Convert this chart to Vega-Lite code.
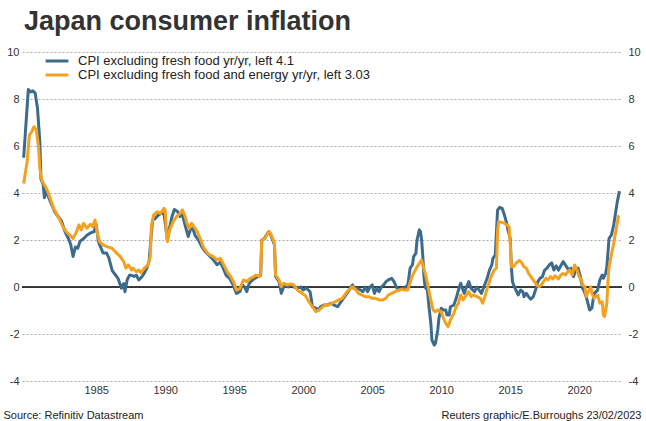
{
  "$schema": "https://vega.github.io/schema/vega-lite/v6.json",
  "width": 600,
  "height": 329,
  "autosize": {"type": "none"},
  "padding": {"left": 22, "top": 52, "right": 24, "bottom": 40},
  "background": "white",
  "title": {"text": "Japan consumer inflation", "anchor": "start", "frame": "group", "fontSize": 27, "fontWeight": "bold", "font": "Liberation Sans", "color": "#333333", "baseline": "alphabetic", "offset": 22, "dx": 2, "dy": 33},
  "config": {"view": {"stroke": null}, "font": "Liberation Sans"},
  "datasets": {
    "zero": [{"zero": 0}],
    "cpi": [
      {"date":"1979-10","series":"core","value":5.5},{"date":"1980-02","series":"core","value":8.4},{"date":"1980-04","series":"core","value":8.3},{"date":"1980-06","series":"core","value":8.35},{"date":"1980-08","series":"core","value":8.25},{"date":"1980-10","series":"core","value":7.6},{"date":"1980-12","series":"core","value":6.2},{"date":"1981-01","series":"core","value":4.6},{"date":"1981-03","series":"core","value":4.35},{"date":"1981-04","series":"core","value":3.8},{"date":"1981-05","series":"core","value":4.1},{"date":"1981-07","series":"core","value":3.9},{"date":"1981-10","series":"core","value":3.55},{"date":"1982-01","series":"core","value":3.2},{"date":"1982-04","series":"core","value":3.0},{"date":"1982-07","series":"core","value":2.8},{"date":"1982-10","series":"core","value":2.35},{"date":"1983-01","series":"core","value":2.05},{"date":"1983-03","series":"core","value":1.8},{"date":"1983-05","series":"core","value":1.3},{"date":"1983-07","series":"core","value":1.7},{"date":"1983-09","series":"core","value":1.65},{"date":"1983-11","series":"core","value":1.95},{"date":"1984-02","series":"core","value":2.05},{"date":"1984-05","series":"core","value":2.2},{"date":"1984-08","series":"core","value":2.3},{"date":"1984-11","series":"core","value":2.35},{"date":"1985-01","series":"core","value":2.65},{"date":"1985-03","series":"core","value":1.95},{"date":"1985-04","series":"core","value":1.8},{"date":"1985-07","series":"core","value":1.45},{"date":"1985-10","series":"core","value":1.45},{"date":"1985-12","series":"core","value":1.25},{"date":"1986-03","series":"core","value":0.7},{"date":"1986-06","series":"core","value":0.5},{"date":"1986-08","series":"core","value":0.37},{"date":"1986-11","series":"core","value":-0.05},{"date":"1987-01","series":"core","value":0.15},{"date":"1987-02","series":"core","value":-0.2},{"date":"1987-04","series":"core","value":0.3},{"date":"1987-06","series":"core","value":0.5},{"date":"1987-08","series":"core","value":0.5},{"date":"1987-10","series":"core","value":0.45},{"date":"1987-12","series":"core","value":0.5},{"date":"1988-02","series":"core","value":0.3},{"date":"1988-05","series":"core","value":0.45},{"date":"1988-07","series":"core","value":0.6},{"date":"1988-09","series":"core","value":0.8},{"date":"1988-11","series":"core","value":1.1},{"date":"1988-12","series":"core","value":1.7},{"date":"1989-02","series":"core","value":2.85},{"date":"1989-04","series":"core","value":2.9},{"date":"1989-07","series":"core","value":3.05},{"date":"1989-10","series":"core","value":3.15},{"date":"1989-12","series":"core","value":3.1},{"date":"1990-03","series":"core","value":2.0},{"date":"1990-05","series":"core","value":2.55},{"date":"1990-07","series":"core","value":3.0},{"date":"1990-09","series":"core","value":3.3},{"date":"1990-12","series":"core","value":3.2},{"date":"1991-02","series":"core","value":3.0},{"date":"1991-04","series":"core","value":3.1},{"date":"1991-06","series":"core","value":2.7},{"date":"1991-09","series":"core","value":2.15},{"date":"1991-11","series":"core","value":2.45},{"date":"1992-01","series":"core","value":2.5},{"date":"1992-03","series":"core","value":2.2},{"date":"1992-06","series":"core","value":2.0},{"date":"1992-09","series":"core","value":1.7},{"date":"1992-12","series":"core","value":1.5},{"date":"1993-03","series":"core","value":1.35},{"date":"1993-07","series":"core","value":1.15},{"date":"1993-10","series":"core","value":0.95},{"date":"1994-01","series":"core","value":1.05},{"date":"1994-03","series":"core","value":0.85},{"date":"1994-06","series":"core","value":0.5},{"date":"1994-09","series":"core","value":0.37},{"date":"1994-12","series":"core","value":0.1},{"date":"1995-03","series":"core","value":-0.27},{"date":"1995-06","series":"core","value":-0.2},{"date":"1995-08","series":"core","value":0.1},{"date":"1995-10","series":"core","value":0.0},{"date":"1995-12","series":"core","value":-0.2},{"date":"1996-02","series":"core","value":0.15},{"date":"1996-05","series":"core","value":0.3},{"date":"1996-07","series":"core","value":0.37},{"date":"1996-10","series":"core","value":0.45},{"date":"1996-12","series":"core","value":0.5},{"date":"1997-01","series":"core","value":2.0},{"date":"1997-03","series":"core","value":2.05},{"date":"1997-05","series":"core","value":2.2},{"date":"1997-07","series":"core","value":2.35},{"date":"1997-09","series":"core","value":2.2},{"date":"1997-10","series":"core","value":2.05},{"date":"1997-12","series":"core","value":1.8},{"date":"1998-01","series":"core","value":0.45},{"date":"1998-04","series":"core","value":0.23},{"date":"1998-06","series":"core","value":-0.27},{"date":"1998-08","series":"core","value":0.0},{"date":"1998-10","series":"core","value":0.1},{"date":"1998-12","series":"core","value":0.0},{"date":"1999-02","series":"core","value":0.1},{"date":"1999-05","series":"core","value":0.0},{"date":"1999-08","series":"core","value":-0.05},{"date":"1999-11","series":"core","value":0.0},{"date":"2000-01","series":"core","value":-0.13},{"date":"2000-04","series":"core","value":-0.05},{"date":"2000-07","series":"core","value":-0.2},{"date":"2000-08","series":"core","value":-0.5},{"date":"2000-09","series":"core","value":-0.84},{"date":"2000-12","series":"core","value":-0.9},{"date":"2001-02","series":"core","value":-0.98},{"date":"2001-04","series":"core","value":-0.84},{"date":"2001-07","series":"core","value":-0.77},{"date":"2001-10","series":"core","value":-0.77},{"date":"2002-01","series":"core","value":-0.69},{"date":"2002-04","series":"core","value":-0.77},{"date":"2002-07","series":"core","value":-0.84},{"date":"2002-09","series":"core","value":-0.69},{"date":"2002-12","series":"core","value":-0.48},{"date":"2003-03","series":"core","value":-0.27},{"date":"2003-06","series":"core","value":-0.06},{"date":"2003-08","series":"core","value":0.09},{"date":"2003-09","series":"core","value":-0.06},{"date":"2003-12","series":"core","value":-0.06},{"date":"2004-03","series":"core","value":-0.13},{"date":"2004-05","series":"core","value":-0.2},{"date":"2004-07","series":"core","value":0.0},{"date":"2004-09","series":"core","value":-0.2},{"date":"2004-11","series":"core","value":0.0},{"date":"2005-01","series":"core","value":0.09},{"date":"2005-03","series":"core","value":-0.27},{"date":"2005-05","series":"core","value":-0.06},{"date":"2005-07","series":"core","value":-0.2},{"date":"2005-09","series":"core","value":0.0},{"date":"2005-11","series":"core","value":0.09},{"date":"2006-01","series":"core","value":0.23},{"date":"2006-03","series":"core","value":0.3},{"date":"2006-06","series":"core","value":0.37},{"date":"2006-08","series":"core","value":0.23},{"date":"2006-10","series":"core","value":0.0},{"date":"2006-12","series":"core","value":-0.13},{"date":"2007-03","series":"core","value":-0.06},{"date":"2007-05","series":"core","value":-0.06},{"date":"2007-08","series":"core","value":0.09},{"date":"2007-10","series":"core","value":0.8},{"date":"2007-12","series":"core","value":0.94},{"date":"2008-01","series":"core","value":1.29},{"date":"2008-03","series":"core","value":1.43},{"date":"2008-04","series":"core","value":2.0},{"date":"2008-06","series":"core","value":2.43},{"date":"2008-07","series":"core","value":2.35},{"date":"2008-08","series":"core","value":2.0},{"date":"2008-09","series":"core","value":1.29},{"date":"2008-10","series":"core","value":0.44},{"date":"2008-11","series":"core","value":0.0},{"date":"2009-01","series":"core","value":-0.13},{"date":"2009-02","series":"core","value":-0.69},{"date":"2009-04","series":"core","value":-1.55},{"date":"2009-05","series":"core","value":-2.26},{"date":"2009-07","series":"core","value":-2.47},{"date":"2009-08","series":"core","value":-2.4},{"date":"2009-10","series":"core","value":-1.83},{"date":"2009-11","series":"core","value":-1.33},{"date":"2010-01","series":"core","value":-0.9},{"date":"2010-03","series":"core","value":-0.98},{"date":"2010-05","series":"core","value":-0.98},{"date":"2010-06","series":"core","value":-1.19},{"date":"2010-08","series":"core","value":-1.19},{"date":"2010-09","series":"core","value":-0.84},{"date":"2010-12","series":"core","value":-0.77},{"date":"2011-02","series":"core","value":-0.48},{"date":"2011-04","series":"core","value":-0.13},{"date":"2011-06","series":"core","value":0.16},{"date":"2011-07","series":"core","value":0.0},{"date":"2011-09","series":"core","value":-0.27},{"date":"2011-11","series":"core","value":0.0},{"date":"2012-01","series":"core","value":0.23},{"date":"2012-03","series":"core","value":-0.06},{"date":"2012-06","series":"core","value":-0.2},{"date":"2012-08","series":"core","value":0.0},{"date":"2012-10","series":"core","value":-0.13},{"date":"2012-12","series":"core","value":-0.27},{"date":"2013-02","series":"core","value":0.0},{"date":"2013-05","series":"core","value":0.37},{"date":"2013-07","series":"core","value":0.72},{"date":"2013-09","series":"core","value":0.94},{"date":"2013-10","series":"core","value":1.22},{"date":"2013-12","series":"core","value":1.36},{"date":"2014-02","series":"core","value":3.28},{"date":"2014-04","series":"core","value":3.39},{"date":"2014-06","series":"core","value":3.35},{"date":"2014-08","series":"core","value":3.06},{"date":"2014-10","series":"core","value":2.71},{"date":"2014-11","series":"core","value":2.43},{"date":"2015-01","series":"core","value":2.07},{"date":"2015-02","series":"core","value":0.86},{"date":"2015-03","series":"core","value":0.23},{"date":"2015-04","series":"core","value":0.09},{"date":"2015-06","series":"core","value":-0.13},{"date":"2015-08","series":"core","value":-0.34},{"date":"2015-10","series":"core","value":-0.13},{"date":"2015-12","series":"core","value":-0.2},{"date":"2016-01","series":"core","value":-0.41},{"date":"2016-03","series":"core","value":-0.27},{"date":"2016-05","series":"core","value":-0.41},{"date":"2016-07","series":"core","value":-0.52},{"date":"2016-09","series":"core","value":-0.41},{"date":"2016-11","series":"core","value":-0.13},{"date":"2017-01","series":"core","value":0.23},{"date":"2017-03","series":"core","value":0.37},{"date":"2017-05","series":"core","value":0.44},{"date":"2017-07","series":"core","value":0.72},{"date":"2017-09","series":"core","value":0.8},{"date":"2017-11","series":"core","value":0.94},{"date":"2018-01","series":"core","value":1.03},{"date":"2018-03","series":"core","value":0.72},{"date":"2018-05","series":"core","value":0.9},{"date":"2018-07","series":"core","value":0.72},{"date":"2018-09","series":"core","value":0.9},{"date":"2018-11","series":"core","value":1.08},{"date":"2019-02","series":"core","value":0.86},{"date":"2019-04","series":"core","value":0.72},{"date":"2019-06","series":"core","value":0.8},{"date":"2019-08","series":"core","value":0.44},{"date":"2019-10","series":"core","value":0.72},{"date":"2019-12","series":"core","value":0.8},{"date":"2020-02","series":"core","value":0.44},{"date":"2020-04","series":"core","value":-0.06},{"date":"2020-05","series":"core","value":-0.13},{"date":"2020-07","series":"core","value":-0.41},{"date":"2020-09","series":"core","value":-0.77},{"date":"2020-10","series":"core","value":-0.98},{"date":"2020-12","series":"core","value":-0.9},{"date":"2021-01","series":"core","value":-0.55},{"date":"2021-02","series":"core","value":-0.27},{"date":"2021-05","series":"core","value":-0.13},{"date":"2021-06","series":"core","value":0.09},{"date":"2021-07","series":"core","value":0.3},{"date":"2021-09","series":"core","value":0.51},{"date":"2021-10","series":"core","value":0.37},{"date":"2021-12","series":"core","value":0.58},{"date":"2022-01","series":"core","value":0.86},{"date":"2022-03","series":"core","value":2.07},{"date":"2022-05","series":"core","value":2.21},{"date":"2022-07","series":"core","value":2.64},{"date":"2022-09","series":"core","value":3.28},{"date":"2022-10","series":"core","value":3.6},{"date":"2022-12","series":"core","value":4.08},
      {"date":"1979-10","series":"corecore","value":4.4},{"date":"1980-01","series":"corecore","value":5.33},{"date":"1980-03","series":"corecore","value":6.47},{"date":"1980-05","series":"corecore","value":6.6},{"date":"1980-07","series":"corecore","value":6.82},{"date":"1980-09","series":"corecore","value":6.68},{"date":"1980-11","series":"corecore","value":5.9},{"date":"1980-12","series":"corecore","value":5.05},{"date":"1981-02","series":"corecore","value":4.48},{"date":"1981-05","series":"corecore","value":4.27},{"date":"1981-07","series":"corecore","value":4.06},{"date":"1981-12","series":"corecore","value":3.35},{"date":"1982-04","series":"corecore","value":3.0},{"date":"1982-08","series":"corecore","value":2.57},{"date":"1982-11","series":"corecore","value":2.35},{"date":"1983-02","series":"corecore","value":2.21},{"date":"1983-05","series":"corecore","value":2.07},{"date":"1983-08","series":"corecore","value":2.35},{"date":"1983-10","series":"corecore","value":2.64},{"date":"1983-12","series":"corecore","value":2.43},{"date":"1984-02","series":"corecore","value":2.71},{"date":"1984-05","series":"corecore","value":2.5},{"date":"1984-08","series":"corecore","value":2.67},{"date":"1984-10","series":"corecore","value":2.57},{"date":"1984-12","series":"corecore","value":2.85},{"date":"1985-02","series":"corecore","value":2.28},{"date":"1985-04","series":"corecore","value":1.93},{"date":"1985-07","series":"corecore","value":1.79},{"date":"1985-11","series":"corecore","value":1.71},{"date":"1986-03","series":"corecore","value":1.64},{"date":"1986-07","series":"corecore","value":1.43},{"date":"1986-10","series":"corecore","value":1.29},{"date":"1987-01","series":"corecore","value":1.08},{"date":"1987-03","series":"corecore","value":0.8},{"date":"1987-05","series":"corecore","value":0.94},{"date":"1987-08","series":"corecore","value":0.72},{"date":"1987-09","series":"corecore","value":0.8},{"date":"1987-12","series":"corecore","value":0.65},{"date":"1988-02","series":"corecore","value":0.72},{"date":"1988-04","series":"corecore","value":0.61},{"date":"1988-07","series":"corecore","value":0.8},{"date":"1988-10","series":"corecore","value":0.94},{"date":"1988-12","series":"corecore","value":1.29},{"date":"1989-01","series":"corecore","value":2.57},{"date":"1989-03","series":"corecore","value":3.06},{"date":"1989-06","series":"corecore","value":3.2},{"date":"1989-09","series":"corecore","value":3.13},{"date":"1989-12","series":"corecore","value":3.35},{"date":"1990-01","series":"corecore","value":3.28},{"date":"1990-02","series":"corecore","value":2.28},{"date":"1990-03","series":"corecore","value":1.93},{"date":"1990-05","series":"corecore","value":2.43},{"date":"1990-08","series":"corecore","value":2.78},{"date":"1990-11","series":"corecore","value":3.0},{"date":"1991-02","series":"corecore","value":3.13},{"date":"1991-04","series":"corecore","value":3.28},{"date":"1991-06","series":"corecore","value":3.06},{"date":"1991-08","series":"corecore","value":2.71},{"date":"1991-10","series":"corecore","value":2.5},{"date":"1991-12","series":"corecore","value":2.71},{"date":"1992-03","series":"corecore","value":2.5},{"date":"1992-05","series":"corecore","value":2.35},{"date":"1992-08","series":"corecore","value":2.0},{"date":"1992-10","series":"corecore","value":1.71},{"date":"1993-02","series":"corecore","value":1.43},{"date":"1993-04","series":"corecore","value":1.36},{"date":"1993-07","series":"corecore","value":1.29},{"date":"1993-10","series":"corecore","value":1.15},{"date":"1994-01","series":"corecore","value":1.22},{"date":"1994-04","series":"corecore","value":0.94},{"date":"1994-07","series":"corecore","value":0.65},{"date":"1994-10","series":"corecore","value":0.44},{"date":"1995-01","series":"corecore","value":0.16},{"date":"1995-03","series":"corecore","value":-0.13},{"date":"1995-06","series":"corecore","value":-0.06},{"date":"1995-09","series":"corecore","value":0.3},{"date":"1995-12","series":"corecore","value":0.23},{"date":"1996-03","series":"corecore","value":0.37},{"date":"1996-06","series":"corecore","value":0.44},{"date":"1996-08","series":"corecore","value":0.51},{"date":"1996-11","series":"corecore","value":0.44},{"date":"1996-12","series":"corecore","value":0.58},{"date":"1997-01","series":"corecore","value":2.0},{"date":"1997-04","series":"corecore","value":2.07},{"date":"1997-06","series":"corecore","value":2.28},{"date":"1997-08","series":"corecore","value":2.35},{"date":"1997-10","series":"corecore","value":2.14},{"date":"1997-12","series":"corecore","value":1.86},{"date":"1998-01","series":"corecore","value":0.51},{"date":"1998-04","series":"corecore","value":0.3},{"date":"1998-06","series":"corecore","value":0.01},{"date":"1998-08","series":"corecore","value":0.16},{"date":"1998-11","series":"corecore","value":0.09},{"date":"1999-02","series":"corecore","value":0.13},{"date":"1999-05","series":"corecore","value":0.09},{"date":"1999-08","series":"corecore","value":-0.13},{"date":"1999-12","series":"corecore","value":-0.27},{"date":"2000-03","series":"corecore","value":-0.37},{"date":"2000-06","series":"corecore","value":-0.63},{"date":"2000-09","series":"corecore","value":-0.84},{"date":"2000-12","series":"corecore","value":-1.05},{"date":"2001-03","series":"corecore","value":-0.98},{"date":"2001-06","series":"corecore","value":-0.84},{"date":"2001-08","series":"corecore","value":-0.77},{"date":"2001-11","series":"corecore","value":-0.77},{"date":"2002-02","series":"corecore","value":-0.69},{"date":"2002-05","series":"corecore","value":-0.63},{"date":"2002-08","series":"corecore","value":-0.55},{"date":"2002-11","series":"corecore","value":-0.48},{"date":"2003-02","series":"corecore","value":-0.27},{"date":"2003-05","series":"corecore","value":-0.1},{"date":"2003-08","series":"corecore","value":0.01},{"date":"2003-11","series":"corecore","value":-0.13},{"date":"2004-01","series":"corecore","value":-0.27},{"date":"2004-04","series":"corecore","value":-0.34},{"date":"2004-07","series":"corecore","value":-0.41},{"date":"2004-10","series":"corecore","value":-0.41},{"date":"2005-01","series":"corecore","value":-0.48},{"date":"2005-04","series":"corecore","value":-0.48},{"date":"2005-07","series":"corecore","value":-0.55},{"date":"2005-10","series":"corecore","value":-0.55},{"date":"2006-01","series":"corecore","value":-0.48},{"date":"2006-03","series":"corecore","value":-0.34},{"date":"2006-06","series":"corecore","value":-0.27},{"date":"2006-09","series":"corecore","value":-0.2},{"date":"2006-12","series":"corecore","value":-0.13},{"date":"2007-03","series":"corecore","value":-0.1},{"date":"2007-05","series":"corecore","value":-0.13},{"date":"2007-08","series":"corecore","value":-0.13},{"date":"2007-11","series":"corecore","value":0.37},{"date":"2008-01","series":"corecore","value":0.58},{"date":"2008-04","series":"corecore","value":0.86},{"date":"2008-07","series":"corecore","value":1.08},{"date":"2008-08","series":"corecore","value":1.15},{"date":"2008-09","series":"corecore","value":0.94},{"date":"2008-11","series":"corecore","value":0.58},{"date":"2009-01","series":"corecore","value":0.16},{"date":"2009-04","series":"corecore","value":-0.55},{"date":"2009-06","series":"corecore","value":-0.98},{"date":"2009-08","series":"corecore","value":-1.05},{"date":"2009-10","series":"corecore","value":-0.98},{"date":"2010-01","series":"corecore","value":-1.05},{"date":"2010-03","series":"corecore","value":-1.33},{"date":"2010-05","series":"corecore","value":-1.55},{"date":"2010-07","series":"corecore","value":-1.69},{"date":"2010-09","series":"corecore","value":-1.4},{"date":"2010-12","series":"corecore","value":-1.12},{"date":"2011-02","series":"corecore","value":-0.84},{"date":"2011-04","series":"corecore","value":-0.69},{"date":"2011-06","series":"corecore","value":-0.34},{"date":"2011-08","series":"corecore","value":-0.55},{"date":"2011-10","series":"corecore","value":-0.41},{"date":"2012-01","series":"corecore","value":-0.2},{"date":"2012-03","series":"corecore","value":-0.41},{"date":"2012-05","series":"corecore","value":-0.34},{"date":"2012-08","series":"corecore","value":-0.41},{"date":"2012-11","series":"corecore","value":-0.48},{"date":"2013-01","series":"corecore","value":-0.69},{"date":"2013-03","series":"corecore","value":-0.41},{"date":"2013-05","series":"corecore","value":-0.06},{"date":"2013-07","series":"corecore","value":0.23},{"date":"2013-09","series":"corecore","value":0.51},{"date":"2013-11","series":"corecore","value":0.72},{"date":"2014-01","series":"corecore","value":0.8},{"date":"2014-02","series":"corecore","value":2.4},{"date":"2014-03","series":"corecore","value":2.78},{"date":"2014-06","series":"corecore","value":2.75},{"date":"2014-08","series":"corecore","value":2.71},{"date":"2014-10","series":"corecore","value":2.64},{"date":"2014-12","series":"corecore","value":2.57},{"date":"2015-01","series":"corecore","value":1.86},{"date":"2015-02","series":"corecore","value":0.86},{"date":"2015-04","series":"corecore","value":0.86},{"date":"2015-06","series":"corecore","value":1.01},{"date":"2015-09","series":"corecore","value":1.13},{"date":"2015-11","series":"corecore","value":1.03},{"date":"2016-01","series":"corecore","value":0.86},{"date":"2016-03","series":"corecore","value":0.8},{"date":"2016-05","series":"corecore","value":0.58},{"date":"2016-08","series":"corecore","value":0.37},{"date":"2016-10","series":"corecore","value":0.23},{"date":"2016-12","series":"corecore","value":0.09},{"date":"2017-02","series":"corecore","value":0.01},{"date":"2017-04","series":"corecore","value":0.09},{"date":"2017-06","series":"corecore","value":0.23},{"date":"2017-08","series":"corecore","value":0.37},{"date":"2017-10","series":"corecore","value":0.3},{"date":"2017-12","series":"corecore","value":0.44},{"date":"2018-02","series":"corecore","value":0.34},{"date":"2018-04","series":"corecore","value":0.48},{"date":"2018-07","series":"corecore","value":0.34},{"date":"2018-09","series":"corecore","value":0.51},{"date":"2018-11","series":"corecore","value":0.58},{"date":"2019-01","series":"corecore","value":0.51},{"date":"2019-03","series":"corecore","value":0.65},{"date":"2019-05","series":"corecore","value":0.72},{"date":"2019-07","series":"corecore","value":0.51},{"date":"2019-09","series":"corecore","value":0.94},{"date":"2019-11","series":"corecore","value":0.72},{"date":"2020-01","series":"corecore","value":0.44},{"date":"2020-03","series":"corecore","value":0.3},{"date":"2020-04","series":"corecore","value":0.09},{"date":"2020-06","series":"corecore","value":0.01},{"date":"2020-07","series":"corecore","value":-0.41},{"date":"2020-09","series":"corecore","value":-0.2},{"date":"2020-11","series":"corecore","value":0.01},{"date":"2020-12","series":"corecore","value":-0.27},{"date":"2021-02","series":"corecore","value":-0.48},{"date":"2021-05","series":"corecore","value":-0.34},{"date":"2021-07","series":"corecore","value":-0.69},{"date":"2021-09","series":"corecore","value":-0.63},{"date":"2021-10","series":"corecore","value":-1.19},{"date":"2021-11","series":"corecore","value":-1.26},{"date":"2022-01","series":"corecore","value":-0.69},{"date":"2022-02","series":"corecore","value":0.3},{"date":"2022-03","series":"corecore","value":0.86},{"date":"2022-05","series":"corecore","value":1.36},{"date":"2022-07","series":"corecore","value":1.86},{"date":"2022-09","series":"corecore","value":2.43},{"date":"2022-11","series":"corecore","value":3.0},{"date":"2022-12","series":"corecore","value":3.03}
    ]
  },
  "layer": [
    {
      "data": {"name": "zero"},
      "mark": {"type": "rule", "color": "#000000", "strokeWidth": 1.5},
      "encoding": {
        "y": {
          "field": "zero", "type": "quantitative",
          "scale": {"domain": [-4, 10], "nice": false, "zero": false},
          "axis": {
            "orient": "right", "values": [-4, -2, 0, 2, 4, 6, 8, 10], "labelExpr": "'' + datum.value", "grid": false, "domain": false, "ticks": false,
            "labelPadding": 6, "labelFontSize": 11, "labelColor": "#333333", "labelFont": "Liberation Sans",
            "title": "Reuters graphic/E.Burroughs 23/02/2023", "titleAngle": 0, "titleX": 19, "titleY": 366,
            "titleAlign": "right", "titleBaseline": "alphabetic", "titleFontWeight": "normal", "titleFontSize": 11,
            "titleColor": "#222222", "titleFont": "Liberation Sans"
          }
        }
      }
    },
    {
      "data": {"name": "cpi"},
      "mark": {"type": "line", "strokeWidth": 3, "strokeJoin": "round"},
      "encoding": {
        "x": {
          "field": "date", "type": "temporal",
          "scale": {"type": "utc", "domain": [{"year": 1979, "month": 8, "date": 18, "utc": true}, {"year": 2023, "month": 2, "date": 6, "utc": true}]},
          "axis": {
            "values": [{"year": 1985, "utc": true}, {"year": 1990, "utc": true}, {"year": 1995, "utc": true}, {"year": 2000, "utc": true}, {"year": 2005, "utc": true}, {"year": 2010, "utc": true}, {"year": 2015, "utc": true}, {"year": 2020, "utc": true}],
            "format": "%Y", "formatType": "utc", "title": null, "domain": false, "ticks": false, "grid": false,
            "labelFontSize": 11, "labelColor": "#333333", "labelPadding": 3, "labelFont": "Liberation Sans"
          }
        },
        "y": {
          "field": "value", "type": "quantitative",
          "scale": {"domain": [-4, 10], "nice": false, "zero": false},
          "axis": {
            "orient": "left", "values": [-4, -2, 0, 2, 4, 6, 8, 10], "labelExpr": "'' + datum.value", "grid": true, "gridDash": [2, 2], "gridColor": "#aaaaaa", "gridWidth": 1,
            "domain": false, "ticks": false, "labelPadding": 3, "labelFontSize": 11, "labelColor": "#333333", "labelFont": "Liberation Sans",
            "title": "Source: Refinitiv Datastream", "titleAngle": 0, "titleX": -19, "titleY": 366,
            "titleAlign": "left", "titleBaseline": "alphabetic", "titleFontWeight": "normal", "titleFontSize": 11,
            "titleColor": "#222222", "titleFont": "Liberation Sans"
          }
        },
        "color": {
          "field": "series", "type": "nominal",
          "scale": {"domain": ["core", "corecore"], "range": ["#3d6b8e", "#f4a11d"]},
          "legend": {
            "orient": "none", "legendX": 22, "legendY": 2.5, "title": null, "symbolType": "stroke", "symbolSize": 520,
            "symbolStrokeWidth": 3, "labelFontSize": 13, "labelColor": "#222222", "labelFont": "Liberation Sans", "labelOffset": 8, "labelLimit": 500, "rowPadding": 0, "clipHeight": 13,
            "labelExpr": "datum.value == 'core' ? 'CPI excluding fresh food yr/yr, left 4.1' : 'CPI excluding fresh food and energy yr/yr, left 3.03'"
          }
        },
        "order": {"field": "date", "type": "temporal"}
      }
    }
  ],
  "resolve": {"axis": {"y": "independent"}}
}
